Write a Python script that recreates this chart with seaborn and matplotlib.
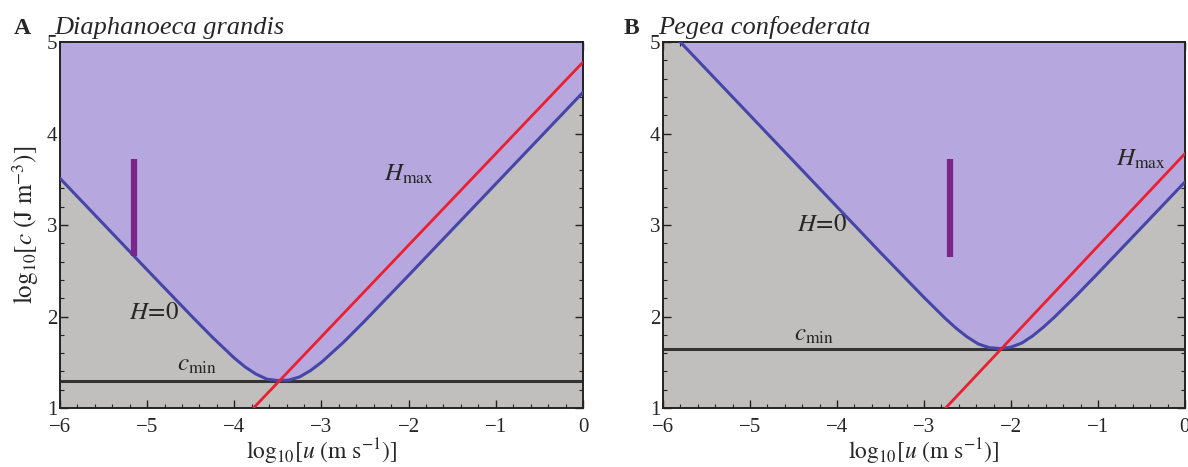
import numpy as np
import matplotlib
matplotlib.use("Agg")
import matplotlib.pyplot as plt
import pandas as pd
import seaborn as sns
from matplotlib.ticker import MultipleLocator

# panel A - Diaphanoeca grandis
a_curve_x = [-6.0, -5.5, -5.0, -4.5, -4.25, -4.0, -3.875, -3.75, -3.625, -3.5,
             -3.375, -3.25, -3.125, -3.0, -2.75, -2.5, -2.0, -1.0, 0.0]
a_curve_y = [3.51, 3.01, 2.51, 2.014, 1.772, 1.546, 1.448, 1.37, 1.315, 1.30,
             1.305, 1.34, 1.41, 1.50, 1.716, 1.955, 2.45, 3.45, 4.45]
a_hmax_x = [-3.78, 0.0]
a_hmax_y = [1.0, 4.78]
a_cmin = 1.30
a_bar_x = -5.15
a_bar_y = [2.66, 3.72]

# panel B - Pegea confoederata
b_curve_x = [-6.0, -5.0, -4.0, -3.5, -3.0, -2.75, -2.625, -2.5, -2.375, -2.25,
             -2.125, -2.0, -1.875, -1.75, -1.625, -1.5, -1.25, -1.0, 0.0]
b_curve_y = [5.2, 4.2, 3.2, 2.70, 2.21, 1.975, 1.868, 1.775, 1.70, 1.66,
             1.65, 1.665, 1.71, 1.788, 1.885, 1.993, 2.227, 2.472, 3.47]
b_hmax_x = [-2.75, 0.0]
b_hmax_y = [1.0, 3.78]
b_cmin = 1.65
b_bar_x = -2.70
b_bar_y = [2.65, 3.72]

GRAY = "#c0bfbd"
PURPLE = "#b6a8de"
BLUE = "#4646a8"
RED = "#ea1f30"
DARK = "#333333"
BAR = "#7a2587"

sns.set_style("ticks")
plt.rcParams["font.family"] = ["Liberation Serif", "DejaVu Serif"]
plt.rcParams["mathtext.fontset"] = "stix"
plt.rcParams["axes.unicode_minus"] = True

fig = plt.figure(figsize=(11.88, 4.67), dpi=100)
ax1 = fig.add_axes([0.0505, 0.1263, 0.4402, 0.7837])
ax2 = fig.add_axes([0.558, 0.1263, 0.4394, 0.7837])


def draw_panel(ax, cx, cy, hx, hy, cmin, bar_x, bar_y):
    df = pd.DataFrame({"u": cx, "c": cy})
    ax.set_facecolor(GRAY)
    ax.fill_between(df["u"], df["c"], 5.5, color=PURPLE, lw=0, zorder=1)
    sns.lineplot(data=df, x="u", y="c", ax=ax, color=BLUE, lw=2.2,
                 sort=False, estimator=None, zorder=3)
    ax.axhline(cmin, color=DARK, lw=2.2, zorder=2)
    sns.lineplot(x=hx, y=hy, ax=ax, color=RED, lw=2.0,
                 sort=False, estimator=None, zorder=4)
    ax.plot([bar_x, bar_x], bar_y, color=BAR, lw=4.5, solid_capstyle="butt", zorder=5)
    ax.set_xlim(-6, 0)
    ax.set_ylim(1, 5)
    ax.xaxis.set_major_locator(MultipleLocator(1))
    ax.xaxis.set_minor_locator(MultipleLocator(0.2))
    ax.yaxis.set_major_locator(MultipleLocator(1))
    ax.yaxis.set_minor_locator(MultipleLocator(0.2))
    ax.tick_params(which="both", direction="in", top=True, right=True,
                   labelsize=15, color="#222222")
    ax.tick_params(axis="x", pad=7)
    ax.tick_params(axis="y", pad=2)
    ax.tick_params(which="major", length=6, width=1.0)
    ax.tick_params(which="minor", length=3, width=0.8)
    for s in ax.spines.values():
        s.set_linewidth(1.4)
        s.set_color("#222222")
    ax.set_xlabel(r"$\mathrm{log}_{10}[u\ (\mathrm{m\ s}^{\mathrm{-1}})]$", fontsize=17, labelpad=0)
    ax.set_ylabel("")


draw_panel(ax1, a_curve_x, a_curve_y, a_hmax_x, a_hmax_y, a_cmin, a_bar_x, a_bar_y)
draw_panel(ax2, b_curve_x, b_curve_y, b_hmax_x, b_hmax_y, b_cmin, b_bar_x, b_bar_y)

ax1.set_ylabel(r"$\mathrm{log}_{10}[c\ (\mathrm{J\ m}^{\mathrm{-3}})]$", fontsize=18, labelpad=4)

# in-plot labels
ax1.text(-4.92, 2.04, r"$H\!=\!0$", fontsize=18, ha="center", va="center", zorder=6)
ax1.text(-4.43, 1.47, r"$c_{\mathrm{min}}$", fontsize=18, ha="center", va="center", zorder=6)
ax1.text(-2.0, 3.55, r"$H_{\mathrm{max}}$", fontsize=18, ha="center", va="center", zorder=6)
ax2.text(-4.17, 3.0, r"$H\!=\!0$", fontsize=18, ha="center", va="center", zorder=6)
ax2.text(-4.26, 1.8, r"$c_{\mathrm{min}}$", fontsize=18, ha="center", va="center", zorder=6)
ax2.text(-0.5, 3.72, r"$H_{\mathrm{max}}$", fontsize=18, ha="center", va="center", zorder=6)

# panel titles
fig.text(0.012, 0.928, "A", fontsize=17, fontweight="bold", va="baseline")
fig.text(0.046, 0.928, "Diaphanoeca grandis", fontsize=19, style="italic", va="baseline")
fig.text(0.525, 0.928, "B", fontsize=17, fontweight="bold", va="baseline")
fig.text(0.554, 0.928, "Pegea confoederata", fontsize=19, style="italic", va="baseline")

fig.savefig("out.png", dpi=100)
